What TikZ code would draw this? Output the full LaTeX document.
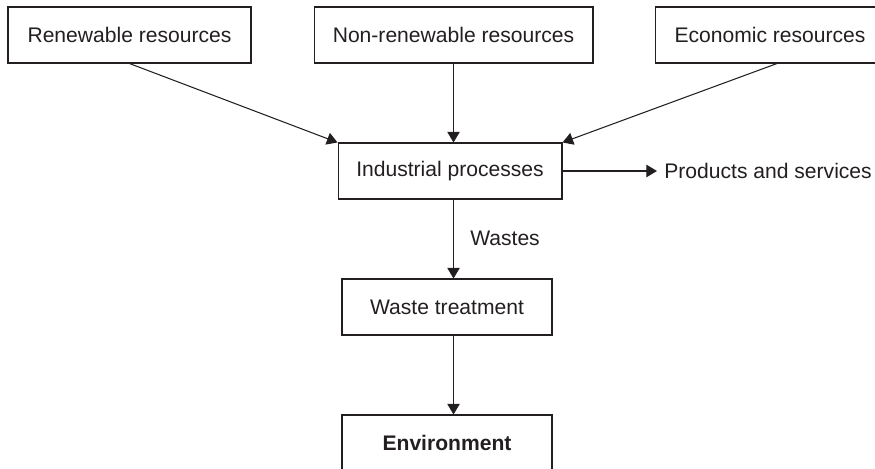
\documentclass[tikz,border=0pt]{standalone}
\usepackage{fontspec}
\setmainfont{Liberation Sans}
\usetikzlibrary{arrows.meta}
\definecolor{montrait}{RGB}{35,31,32}
\tikzset{
	boite/.style={draw=montrait,line width=0.6pt,minimum height=1.12cm,inner sep=0pt,font=\fontsize{12}{14}\selectfont,text=montrait},
	etiquette/.style={inner sep=0pt,font=\fontsize{12}{14}\selectfont,text=montrait},
	fleche/.style={draw=montrait,line width=0.6pt,-{Triangle[length=6pt,width=7pt]}}
}

\begin{document}
\begin{tikzpicture}[x=0.02cm,y=-0.02cm]
	\useasboundingbox (0,0) rectangle (875,469);
	\clip (0,0) rectangle (875,469);
	% Ressources %
	\node[boite,minimum width=4.86cm] (ren) at (129.5,35) {Renewable resources};
	\node[boite,minimum width=5.58cm] (non) at (453.5,35) {Non-renewable resources};
	\node[boite,minimum width=4.58cm] (eco) at (770,35) {Economic resources};
	% Processus %
	\node[boite,minimum width=4.48cm] (ind) at (450,171) {Industrial processes};
	\node[etiquette,anchor=west] (prod) at (664,171) {Products and services};
	% Dechets %
	\node[boite,minimum width=4.2cm] (wt) at (447,307) {Waste treatment};
	\node[etiquette] (wastes) at (505,238) {Wastes};
	\node[boite,minimum width=4.2cm,font=\fontsize{12}{14}\selectfont\bfseries] (env) at (447,443) {Environment};
	% Fleches %
	\draw[fleche] (ren.south) -- (ind.north west);
	\draw[fleche] (non.south) -- (non.south |- ind.north);
	\draw[fleche] ([xshift=0.14cm]eco.south) -- (ind.north east);
	\draw[fleche] (ind.east) -- ([xshift=-0.14cm]prod.west);
	\draw[fleche] (ind.south -| non.south) -- (wt.north -| non.south);
	\draw[fleche] (wt.south -| non.south) -- (env.north -| non.south);
\end{tikzpicture}
\end{document}
